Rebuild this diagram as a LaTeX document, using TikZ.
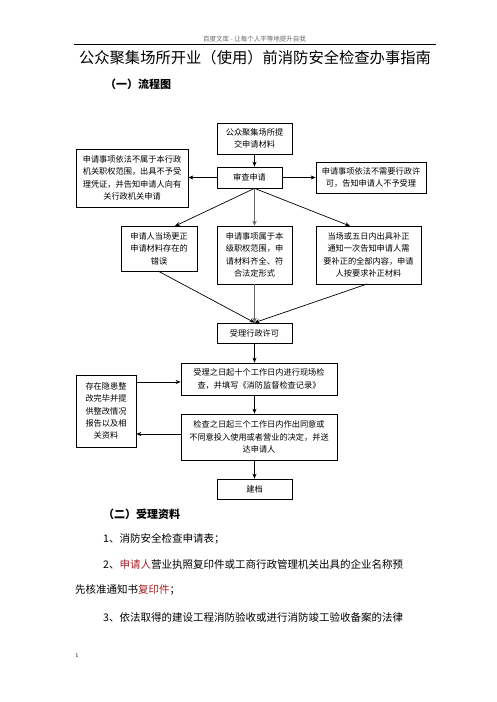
\documentclass[tikz,border=0pt]{standalone}
\usepackage{fontspec}
\newfontfamily\cjk{Noto Sans CJK SC}
\usetikzlibrary{arrows.meta}
\definecolor{docred}{RGB}{165,30,35}
\begin{document}
\begin{tikzpicture}[x=1pt,y=-1pt,
  box/.style={draw,line width=0.7pt,inner sep=0pt,align=center,font=\cjk\fontsize{8.2}{12.4}\selectfont},
  arr/.style={line width=0.7pt,-{Stealth[length=5pt,width=4pt]}},
  thickarr/.style={line width=1.6pt,draw=black!60,-{Stealth[length=5pt,width=4.5pt]}},
  body/.style={anchor=west,inner sep=0pt,font=\cjk\fontsize{10.5}{14}\selectfont},
  head/.style={anchor=west,inner sep=0pt,font=\cjk\bfseries\fontsize{11}{14}\selectfont}]
\useasboundingbox (0,0) rectangle (496,702);
% header
\node[inner sep=0pt,text=black!60,font=\cjk\fontsize{6.5}{8}\selectfont] (hdr) at (254.5,39) {百度文库 - 让每个人平等地提升自我};
\coordinate (hl) at (74,44);
\coordinate (hr) at (436,44);
\draw[line width=0.8pt] (hl) -- (hr);
\node[inner sep=0pt,font=\cjk\fontsize{15.3}{20}\selectfont] (title) at (255,58) {公众聚集场所开业（使用）前消防安全检查办事指南};
\node[head] (h1) at (105,84) {（一）流程图};
% flowchart
\node[box,minimum width=75pt,minimum height=31pt] (b1) at (254.5,138.5) {公众聚集场所提\\交申请材料};
\node[box,minimum width=65pt,minimum height=21pt] (b2) at (249.5,177.5) {审查申请};
\node[box,minimum width=112pt,minimum height=58pt] (bl) at (132,178) {申请事项依法不属于本行政\\机关职权范围，出具不予受\\理凭证，并告知申请人向有\\关行政机关申请};
\node[box,minimum width=110pt,minimum height=31pt] (br) at (371,177.5) {申请事项依法不需要行政许\\可，告知申请人不予受理};
\node[box,minimum width=76pt,minimum height=45pt] (ba) at (159,248.5) {申请人当场更正\\申请材料存在的\\错误};
\node[box,minimum width=75pt,minimum height=58pt] (bb) at (254.5,255) {申请事项属于本\\级职权范围，申\\请材料齐全、符\\合法定形式};
\node[box,minimum width=105pt,minimum height=58pt] (bc) at (368.5,255) {当场或五日内出具补正\\通知一次告知申请人需\\要补正的全部内容，申请\\人按要求补正材料};
\node[box,minimum width=75pt,minimum height=20pt] (bs) at (254.5,333) {受理行政许可};
\node[box,minimum width=156pt,minimum height=32pt] (bd) at (259,379) {受理之日起十个工作日内进行现场检\\查，并填写《消防监督检查记录》};
\node[box,minimum width=156pt,minimum height=46pt] (be) at (259,437) {检查之日起三个工作日内作出同意或\\不同意投入使用或者营业的决定，并送\\达申请人};
\node[box,minimum width=75pt,minimum height=20pt] (bf) at (254.5,489) {建档};
\node[box,minimum width=60pt,minimum height=72pt] (bg) at (106,411) {存在隐患整\\改完毕并提\\供整改情况\\报告以及相\\关资料};
% connectors
\coordinate (o) at (b1.south |- b2.south);
\draw[arr] (b1.south) -- (b1.south |- b2.north);
\draw[arr] (b2.west) -- (bl.east |- b2.west);
\draw[arr] (b2.east) -- (br.west |- b2.east);
\coordinate (at) at (175,226);
\coordinate (ct) at (350,226);
\draw[arr] (o) -- (at);
\draw[thickarr] (o) -- (bb.north);
\draw[arr] (o) -- (ct);
\coordinate (ab) at (158,271);
\coordinate (cb) at (367,284);
\draw[arr] (ab) -- (bs.north);
\draw[thickarr] (bb.south) -- (bs.north);
\draw[arr] (cb) -- (bs.north);
\draw[arr] (bs.south) -- (bs.south |- bd.north);
\draw[arr] (bs.south |- bd.south) -- (bs.south |- be.north);
\draw[arr] (bs.south |- be.south) -- (bf.north);
\draw[arr] (bg.east |- 0,382) -- (bd.west |- 0,382);
\draw[arr] (be.west |- 0,434) -- (bg.east |- 0,434);
% text
\node[head] (h2) at (103,514) {（二）受理资料};
\node[body] (t1) at (103,539) {1、消防安全检查申请表；};
\node[body] (t2) at (103,564) {2、\textcolor{docred}{申请人}营业执照复印件或工商行政管理机关出具的企业名称预};
\node[body] (t3) at (75,590) {先核准通知书\textcolor{docred}{复印件}；};
\node[body] (t4) at (103,617) {3、依法取得的建设工程消防验收或进行消防竣工验收备案的法律};
\node[inner sep=0pt,font=\fontsize{6}{7}\selectfont] (pg) at (77,655) {1};
\end{tikzpicture}
\end{document}
